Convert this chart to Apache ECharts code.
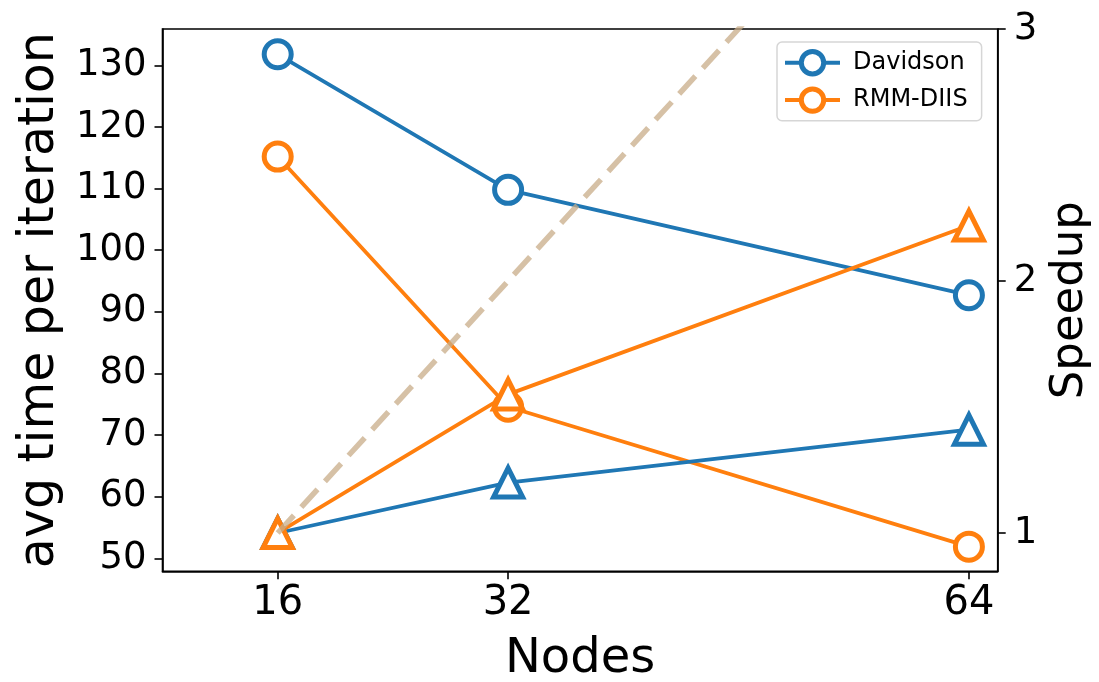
<!DOCTYPE html>
<html>
<head>
<meta charset="utf-8">
<script src="https://cdn.jsdelivr.net/npm/echarts@6/dist/echarts.min.js"></script>
<style>
  html, body { margin: 0; padding: 0; background: #fff; }
  #chart { width: 1099px; height: 682px; }
</style>
</head>
<body>
<div id="chart"></div>
<script>
// Node counts on the x axis
const nodes = [16, 32, 64];
const nodeTicks = [16, 32, 64];

// Average time per iteration (left axis)
const davidsonTime = [131.8, 109.8, 92.7];
const rmmTime = [115.2, 74.6, 51.9];

// Speedup relative to 16 nodes (right axis)
const davidsonSpeedup = [1.0, 1.20, 1.41];
const rmmSpeedup = [1.0, 1.55, 2.22];

// Ideal linear speedup reference
const idealNodes = [16, 64];
const idealSpeedup = [1, 4];

const timeTicks = [50, 60, 70, 80, 90, 100, 110, 120, 130];
const speedupTicks = [1, 2, 3];

const FONT = 'DejaVu Sans';
const BLUE = '#1f77b4';
const ORANGE = '#ff7f0e';

const pairs = (xs, ys) => xs.map((x, i) => [x, ys[i]]);

const chart = echarts.init(document.getElementById('chart'), null, { renderer: 'canvas' });

function lineSeries(name, data, color, yIndex, symbol, size) {
  return {
    name: name,
    type: 'line',
    yAxisIndex: yIndex,
    data: data,
    symbol: symbol,
    symbolSize: size,
    showAllSymbol: true,
    lineStyle: { color: color, width: 3.8 },
    itemStyle: { color: '#ffffff', borderColor: color, borderWidth: 5 },
    emphasis: { disabled: true },
    animation: false,
    z: 3
  };
}

const option = {
  animation: false,
  backgroundColor: '#ffffff',
  textStyle: { fontFamily: FONT },
  grid: {
    left: 162.5, right: 101.3, top: 29, bottom: 110.7,
    containLabel: false,
    outerBoundsMode: 'none',
    show: true, borderColor: '#000', borderWidth: 1.6, backgroundColor: 'transparent'
  },
  legend: {
    data: ['Davidson', 'RMM-DIIS'],
    orient: 'vertical',
    left: 777, top: 42,
    itemWidth: 55, itemHeight: 28, itemGap: 10,
    padding: [7, 14, 7, 6],
    backgroundColor: 'rgba(255,255,255,0.8)',
    borderColor: '#d6d6d6', borderWidth: 1.5, borderRadius: 5,
    itemStyle: { borderWidth: 5, color: '#ffffff' },
    lineStyle: { width: 4 },
    textStyle: { fontFamily: FONT, fontSize: 24, color: '#000', padding: [0, 0, 0, 8] }
  },
  xAxis: {
    type: 'value',
    min: 8, max: 66,
    name: 'Nodes',
    nameLocation: 'middle',
    nameGap: 64,
    nameTextStyle: { fontFamily: FONT, fontSize: 48, color: '#000' },
    axisLine: { show: true, onZero: false, lineStyle: { color: '#000', width: 1.6 } },
    axisTick: { show: true, length: 8, lineStyle: { color: '#000', width: 1.6 }, customValues: nodeTicks },
    axisLabel: { fontFamily: FONT, fontSize: 40, color: '#000', margin: 12, customValues: nodeTicks },
    splitLine: { show: false }
  },
  yAxis: [
    {
      type: 'value',
      position: 'left',
      min: 47.9, max: 135.9,
      name: 'avg time per iteration',
      nameLocation: 'middle',
      nameRotate: 90,
      nameGap: 98,
      nameTextStyle: { fontFamily: FONT, fontSize: 49, color: '#000' },
      axisLine: { show: true, onZero: false, lineStyle: { color: '#000', width: 1.6 } },
      axisTick: { show: true, length: 8, lineStyle: { color: '#000', width: 1.6 }, customValues: timeTicks },
      axisLabel: { fontFamily: FONT, fontSize: 37, color: '#000', margin: 16, customValues: timeTicks },
      splitLine: { show: false }
    },
    {
      type: 'value',
      position: 'right',
      min: 0.848, max: 3,
      name: 'Speedup',
      nameLocation: 'middle',
      nameRotate: 90,
      nameGap: 48,
      nameTextStyle: { fontFamily: FONT, fontSize: 45, color: '#000' },
      axisLine: { show: true, onZero: false, lineStyle: { color: '#000', width: 1.6 } },
      axisTick: { show: true, length: 8, lineStyle: { color: '#000', width: 1.6 }, customValues: speedupTicks },
      axisLabel: { fontFamily: FONT, fontSize: 37, color: '#000', margin: 16, customValues: speedupTicks },
      splitLine: { show: false }
    }
  ],
  series: [
    lineSeries('Davidson', pairs(nodes, davidsonTime), BLUE, 0, 'circle', 27),
    lineSeries('RMM-DIIS', pairs(nodes, rmmTime), ORANGE, 0, 'circle', 27),
    lineSeries('Davidson speedup', pairs(nodes, davidsonSpeedup), BLUE, 1, 'triangle', 29),
    lineSeries('RMM-DIIS speedup', pairs(nodes, rmmSpeedup), ORANGE, 1, 'triangle', 29),
    {
      name: 'Ideal',
      type: 'line',
      yAxisIndex: 1,
      data: pairs(idealNodes, idealSpeedup),
      symbol: 'none',
      clip: true,
      lineStyle: { color: 'rgba(200,172,136,0.75)', width: 5.5, type: [24, 11] },
      emphasis: { disabled: true },
      animation: false,
      z: 4
    }
  ]
};

chart.setOption(option);
</script>
</body>
</html>
